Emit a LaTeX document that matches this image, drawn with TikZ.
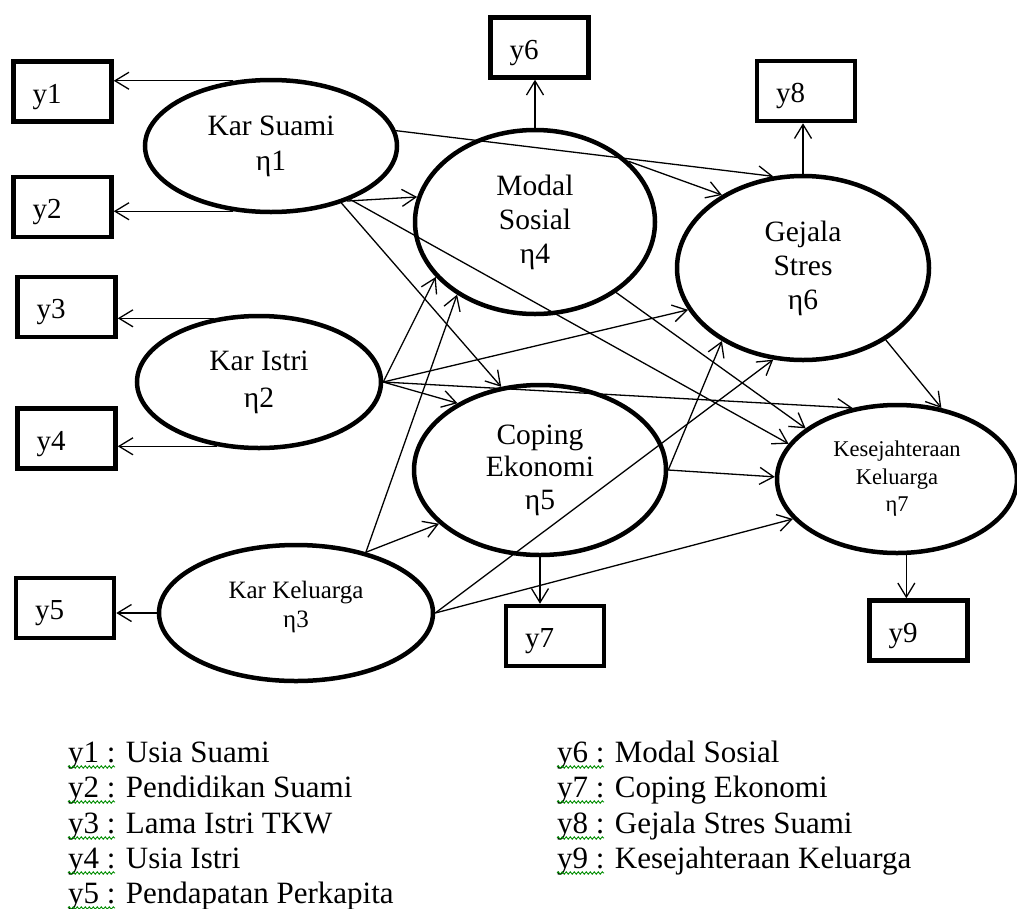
\documentclass[tikz,border=0pt]{standalone}
\usepackage{fontspec}
\setmainfont{Liberation Serif}
\usetikzlibrary{arrows.meta,shapes.geometric,decorations.pathmorphing}
\begin{document}
\begin{tikzpicture}[x=1pt,y=-1pt,
  ell/.style={ellipse,draw,line width=4.5pt,inner sep=0pt,align=center,font=\fontsize{29.5}{34}\selectfont},
  obsbox/.style={rectangle,draw,line width=4.5pt,minimum width=98pt,minimum height=60pt,inner ysep=0pt,inner xsep=19pt,text width=60pt,align=left,text height=25pt,text depth=2pt,font=\fontsize{29}{34}\selectfont},
  conn/.style={line width=1.3pt,-{Straight Barb[length=14pt,width=17pt]}},
  legend/.style={anchor=base west,inner sep=0pt,font=\fontsize{31}{36}\selectfont},
  squig/.style={draw=green!55!black,line width=0.9pt,decorate,decoration={snake,amplitude=1.2pt,segment length=4pt}}
]
\useasboundingbox (0,0) rectangle (1017,908);

% observed indicators
\node[obsbox] (y1) at (62.5,91.5) {y1};
\node[obsbox] (y2) at (62.5,207) {y2};
\node[obsbox] (y3) at (66.5,307) {y3};
\node[obsbox] (y4) at (66.5,438.5) {y4};
\node[obsbox] (y5) at (65,608) {y5};
\node[obsbox] (y6) at (539.5,47.5) {y6};
\node[obsbox] (y8) at (806,91) {y8};
\node[obsbox] (y7) at (555,636) {y7};
\node[obsbox] (y9) at (918.5,630.5) {y9};

% latent variables
\node[ell,minimum width=252pt,minimum height=132pt,font=\fontsize{29.5}{35}\selectfont] (e1) at (271,146) {Kar Suami\\η1};
\node[ell,minimum width=244pt,minimum height=132pt,font=\fontsize{29.5}{37}\selectfont] (e2) at (259,382) {Kar Istri\\η2};
\node[ell,minimum width=274pt,minimum height=136pt,font=\fontsize{25}{29}\selectfont] (e3) at (296,613) {Kar Keluarga\\η3\rule[-18pt]{0pt}{1pt}};
\node[ell,minimum width=240pt,minimum height=184pt] (e4) at (535,222) {Modal\\Sosial\\η4};
\node[ell,minimum width=252pt,minimum height=170pt,font=\fontsize{29.5}{32.5}\selectfont] (e5) at (540,470) {Coping\\Ekonomi\\η5};
\node[ell,minimum width=252pt,minimum height=184pt] (e6) at (803,268) {Gejala\\Stres\\η6};
\node[ell,minimum width=240pt,minimum height=148pt,font=\fontsize{22.5}{27.5}\selectfont] (e7) at (897,479) {Kesejahteraan\\Keluarga\\η7};

% measurement arrows
\draw[conn] (e1.120) -- (e1.120 -| y1.east);
\draw[conn] (e1.240) -- (e1.240 -| y2.east);
\draw[conn] (e2.125) -- (e2.125 -| y3.east);
\draw[conn] (e2.237) -- (e2.237 -| y4.east);
\draw[conn] (e3.west) -- (e3.west -| y5.east);
\draw[conn] (e4.north) -- (e4.north |- y6.south);
\draw[conn] (e6.north) -- (e6.north |- y8.south);
\draw[conn] (e5.south) -- (e5.south |- y7.north);
\draw[conn] (e7.277.7) -- (e7.277.7 |- y9.north);

% structural arrows
\draw[conn] (e1.-36) -- (e4.168);
\draw[conn] (e1.-39) -- (e5.115);
\draw[conn] (e1.7) -- (e6.108);
\draw[conn] (e1.-34) -- (e7.162.2);
\draw[conn] (e2.east) -- (e4.209.6);
\draw[conn] (e2.east) -- (e5.141.8);
\draw[conn] (e2.east) -- (e6.200);
\draw[conn] (e2.east) -- (e7.122.4);
\draw[conn] (e3.41.6) -- (e4.223.5);
\draw[conn] (e3.41.6) -- (e5.208.8);
\draw[conn] (e3.east) -- (e6.252.5);
\draw[conn] (e3.east) -- (e7.201.5);
\draw[conn] (e4.33) -- (e6.138.8);
\draw[conn] (e4.-41.3) -- (e7.151.6);
\draw[conn] (e5.east) -- (e6.222.8);
\draw[conn] (e5.east) -- (e7.179);
\draw[conn] (e6.-41.8) -- (e7.58.8);

% legend
\node[legend] (l1) at (68,762) {y1 : Usia Suami};
\node[legend] (l2) at (68,797) {y2 : Pendidikan Suami};
\node[legend] (l3) at (68,833) {y3 : Lama Istri TKW};
\node[legend] (l4) at (68,868) {y4 : Usia Istri};
\node[legend] (l5) at (68,903) {y5 : Pendapatan Perkapita};
\node[legend] (l6) at (557,762) {y6 : Modal Sosial};
\node[legend] (l7) at (557,797) {y7 : Coping Ekonomi};
\node[legend] (l8) at (557,833) {y8 : Gejala Stres Suami};
\node[legend] (l9) at (557,868) {y9 : Kesejahteraan Keluarga};
\foreach \n in {l1,l2,l3,l4,l5,l6,l7,l8,l9}
  \draw[squig] ([yshift=-5pt]\n.base west) -- ++(47,0);
\end{tikzpicture}
\end{document}
